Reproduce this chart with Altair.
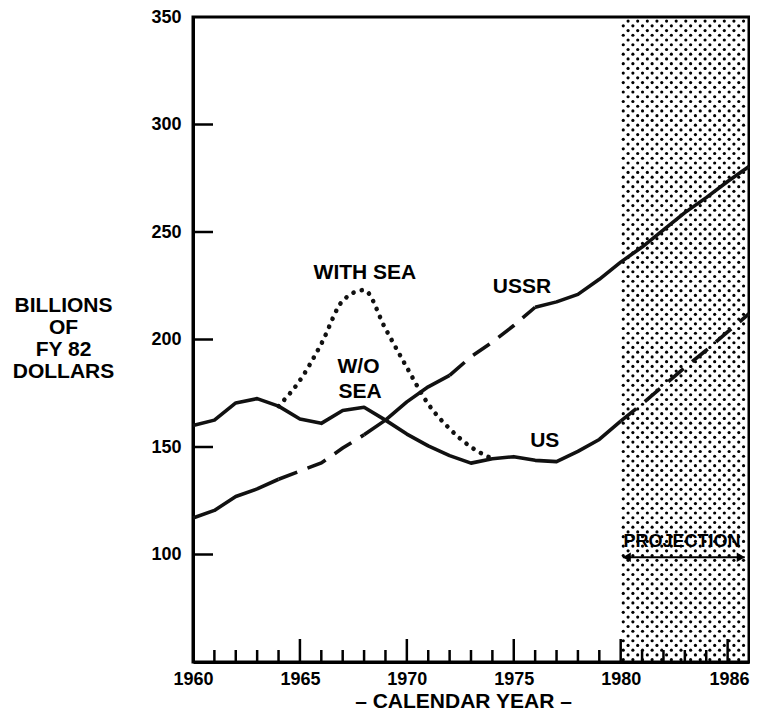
import altair as alt
import pandas as pd

# ---------------- data ----------------
years = list(range(1960, 1987))
us_values = [160, 162.5, 170.5, 172.5, 169, 163, 161, 167, 168.5, 162.5,
             156, 150.5, 146, 142.5, 144.5, 145.5, 143.8, 143.2, 148, 153.5,
             162, 170, 178.5, 187, 195, 203.5, 212]
ussr_values = [117, 120.5, 127, 130.5, 135, 138.8, 142.6, 149.5, 155.7, 162.5,
               171, 178, 183.3, 192, 198.8, 206.5, 215, 217.5, 221, 228,
               236, 243, 251, 259, 266, 273.5, 280.5]
sea_years = list(range(1964, 1975))
with_sea_values = [169, 181, 198, 218, 223, 205, 187, 170, 158.5, 150, 144.5]

us_dashed_spans = [(1980, 1986)]
ussr_dashed_spans = [(1964, 1968), (1972, 1976)]

x_labels = [1960, 1965, 1970, 1975, 1980, 1986]
y_labels = [100, 150, 200, 250, 300, 350]
minor_ticks = [y for y in range(1961, 1986) if y % 5]
major_ticks = [1965, 1970, 1975, 1980, 1985]
y_ticks = [100, 150, 200, 250, 300]

ann_text = ["WITH SEA", "USSR", "W/O", "SEA", "US"]
ann_year = [1968.04, 1975.38, 1967.74, 1967.81, 1976.45]
ann_value = [230.7, 224.3, 187.3, 175.7, 152.8]

proj_start, proj_end = 1980, 1986
proj_label_year, proj_label_value = 1982.87, 105.9
arrow_value = 98.7

FONT = "Liberation Sans"
W, H = 556, 645


def segments(name, xs, vs, dashed_spans):
    rows, seg, prev = [], 0, None
    for i in range(len(xs) - 1):
        x0, x1 = xs[i], xs[i + 1]
        dashed = any(a <= x0 and x1 <= b for a, b in dashed_spans)
        style = "dashed" if dashed else "solid"
        if style != prev:
            seg += 1
            rows.append(dict(seg=f"{name}-{seg}", style=style, year=x0, value=vs[i]))
            prev = style
        rows.append(dict(seg=f"{name}-{seg}", style=style, year=x1, value=vs[i + 1]))
    return rows


lines_df = pd.DataFrame(segments("US", years, us_values, us_dashed_spans)
                        + segments("USSR", years, ussr_values, ussr_dashed_spans))
sea_df = pd.DataFrame({"year": sea_years, "value": with_sea_values})

x_axis = alt.Axis(values=x_labels, format="d", ticks=False, tickSize=0, grid=False,
                  labelFlush=False, labelOverlap=False,
                  labelAlign={"condition": {"test": "datum.value == 1986", "value": "right"},
                              "value": "center"},
                  labelFontSize=18, labelFontWeight="bold", labelPadding=8,
                  title="– CALENDAR YEAR –", titleFontSize=21, titleFontWeight="bold",
                  titleBaseline="alphabetic", titleX=270, titleY=45)
y_axis = alt.Axis(values=y_labels, format="d", ticks=False, tickSize=0, grid=False,
                  labelFlush=False, labelOverlap=False,
                  labelFontSize=18, labelFontWeight="bold", labelPadding=12,
                  title=["BILLIONS", "OF", "FY 82", "DOLLARS"], titleAngle=0,
                  titleAlign="center", titleBaseline="top", titleX=-130, titleY=277,
                  titleFontSize=21, titleFontWeight="bold", titleLineHeight=22)

xs = alt.Scale(domain=[1960, 1986], nice=False, zero=False)
ys = alt.Scale(domain=[50, 350], nice=False, zero=False)


def X(field="year"):
    return alt.X(f"{field}:Q", scale=xs, axis=x_axis)


def Y(field="value"):
    return alt.Y(f"{field}:Q", scale=ys, axis=y_axis)


# stipple texture for the projection period
dx, dy, ncols = 0.45, 2.2, 15
dots = (alt.Chart(alt.sequence(0, ncols * 140, as_="i"))
        .transform_calculate(row="floor(datum.i / %d)" % ncols, col="datum.i %% %d" % ncols)
        .transform_calculate(year=f"{proj_start} + 0.12 + (datum.col + (datum.row % 2) * 0.5) * {dx}",
                             value=f"50 + 1.1 + datum.row * {dy}")
        .transform_filter(f"datum.year < {proj_end} - 0.06 && datum.value < 349.2")
        .mark_circle(size=10, color="black", opacity=1)
        .encode(x=X(), y=Y()))

minor = (alt.Chart(pd.DataFrame({"year": minor_ticks}))
         .mark_rule(strokeWidth=2.5, color="black")
         .encode(x=X(), y=alt.value(H), y2=alt.value(H - 12)))
major = (alt.Chart(pd.DataFrame({"year": major_ticks}))
         .mark_rule(strokeWidth=2.5, color="black")
         .encode(x=X(), y=alt.value(H), y2=alt.value(H - 23)))
yt = (alt.Chart(pd.DataFrame({"value": y_ticks}))
      .mark_rule(strokeWidth=2.5, color="black")
      .encode(y=Y(), x=alt.value(0), x2=alt.value(20)))

solid = (alt.Chart(lines_df).transform_filter("datum.style == 'solid'")
         .mark_line(strokeWidth=3.6, color="#111", strokeJoin="round")
         .encode(x=X(), y=Y(), detail="seg:N"))
dashed = (alt.Chart(lines_df).transform_filter("datum.style == 'dashed'")
          .mark_line(strokeWidth=3.6, color="#111", strokeDash=[20, 11])
          .encode(x=X(), y=Y(), detail="seg:N"))
dotted = (alt.Chart(sea_df)
          .mark_line(strokeWidth=4.6, color="#111", strokeDash=[0.1, 8.5],
                     strokeCap="round", interpolate="monotone")
          .encode(x=X(), y=Y()))

ann = (alt.Chart(pd.DataFrame({"t": ann_text, "year": ann_year, "value": ann_value}))
       .mark_text(font=FONT, fontSize=21, fontWeight="bold", align="center",
                  baseline="middle", color="black")
       .encode(x=X(), y=Y(), text="t:N"))
proj_txt = (alt.Chart(pd.DataFrame({"t": ["PROJECTION"], "year": [proj_label_year],
                                    "value": [proj_label_value]}))
            .mark_text(font=FONT, fontSize=18, fontWeight="bold", align="center",
                       baseline="middle", color="black")
            .encode(x=X(), y=Y(), text="t:N"))
arrow = (alt.Chart(pd.DataFrame({"year": [proj_start + 0.1], "year2": [proj_end - 0.2],
                                 "value": [arrow_value]}))
         .mark_rule(strokeWidth=2, color="black")
         .encode(x=X(), x2="year2:Q", y=Y()))
head_l = (alt.Chart(pd.DataFrame({"year": [proj_start], "value": [arrow_value]}))
          .mark_point(shape="triangle-left", filled=True, size=90, xOffset=6,
                      color="black", opacity=1)
          .encode(x=X(), y=Y()))
head_r = (alt.Chart(pd.DataFrame({"year": [proj_end - 0.1], "value": [arrow_value]}))
          .mark_point(shape="triangle-right", filled=True, size=90, xOffset=-6,
                      color="black", opacity=1)
          .encode(x=X(), y=Y()))

chart = (alt.layer(dots, minor, major, yt, dotted, dashed, solid, ann, proj_txt,
                   arrow, head_l, head_r)
         .properties(width=W, height=H, autosize=alt.AutoSizeParams(type="none"),
                     padding={"left": 185, "top": 9, "right": 1, "bottom": 50})
         .configure_view(stroke="black", strokeWidth=3)
         .configure_axis(domainColor="black", domainWidth=3, labelColor="black",
                         titleColor="black", labelFont=FONT, titleFont=FONT))

chart.save("out.html", embed_options={"renderer": "svg", "actions": False})
